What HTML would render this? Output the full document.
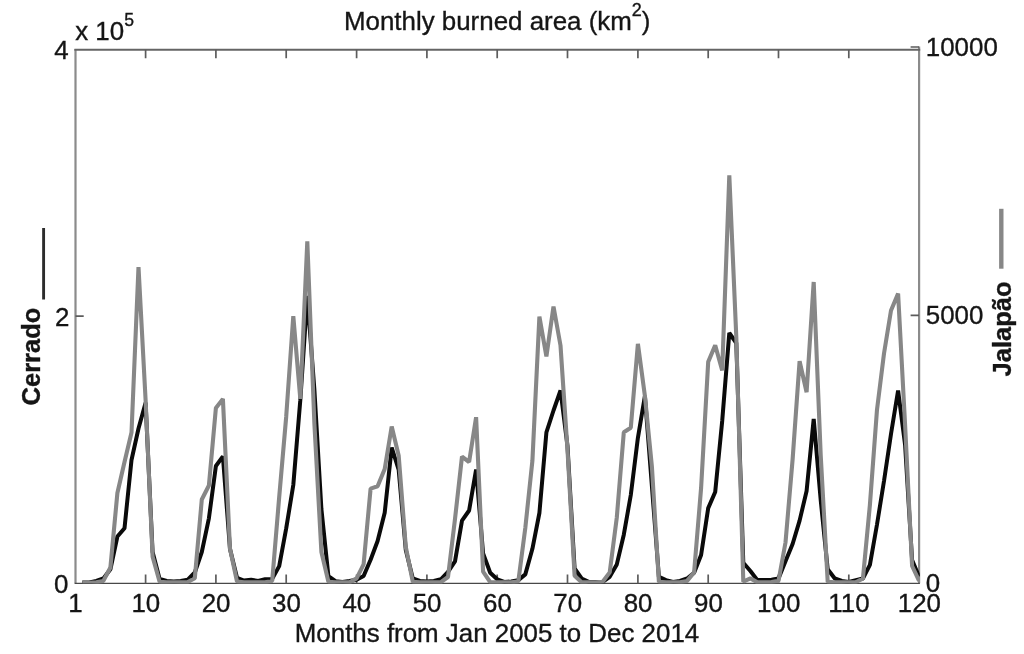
<!DOCTYPE html>
<html><head><meta charset="utf-8"><title>Monthly burned area</title>
<style>
html,body{margin:0;padding:0;background:#fff;}
svg{display:block;}
text{font-family:"Liberation Sans",Arial,sans-serif;fill:#151515;stroke:#151515;stroke-width:0.35px;}
</style></head><body>
<svg width="1024" height="654" viewBox="0 0 1024 654">
<rect width="1024" height="654" fill="#fff"/>
<path d="M75.5,583.2V48.9M919.1,583.2V46.4" fill="none" stroke="#8b8b8b" stroke-width="2.2"/>
<path d="M74.4,49.7H920.2" fill="none" stroke="#646464" stroke-width="1.9"/>
<path d="M74.6,583.3H919.9" fill="none" stroke="#484848" stroke-width="1.3"/>
<path d="M145.6,49.8v8.4M145.6,583.2v-8.7M215.9,49.8v8.4M215.9,583.2v-8.7M286.2,49.8v8.4M286.2,583.2v-8.7M356.6,49.8v8.4M356.6,583.2v-8.7M426.9,49.8v8.4M426.9,583.2v-8.7M497.2,49.8v8.4M497.2,583.2v-8.7M567.5,49.8v8.4M567.5,583.2v-8.7M637.9,49.8v8.4M637.9,583.2v-8.7M708.2,49.8v8.4M708.2,583.2v-8.7M778.5,49.8v8.4M778.5,583.2v-8.7M848.8,49.8v8.4M848.8,583.2v-8.7M75.5,316.1h8.2M919.0,47.0h-8.4M919.0,315.4h-8.4" fill="none" stroke="#5c5c5c" stroke-width="1.7"/>
<clipPath id="pc"><rect x="75.5" y="49.8" width="844.3" height="533.6"/></clipPath><g clip-path="url(#pc)">
<polyline points="82.3,582.6 89.3,582.4 96.3,581.0 103.4,578.5 110.4,569.3 117.4,536.5 124.5,528.2 131.5,460.0 138.5,428.5 145.6,402.7 152.6,552.0 159.6,578.9 166.7,581.0 173.7,581.6 180.7,581.0 187.8,579.6 194.8,572.5 201.8,552.0 208.9,518.3 215.9,466.0 222.9,456.3 230.0,549.0 237.0,577.8 244.0,580.5 251.1,579.7 258.1,581.0 265.1,579.3 272.2,578.9 279.2,566.1 286.2,528.4 293.3,485.0 300.3,400.2 307.3,296.0 314.4,390.0 321.4,509.0 328.4,576.2 335.5,581.2 342.5,581.9 349.5,581.0 356.6,579.7 363.6,576.0 370.6,559.7 377.6,541.0 384.7,512.8 391.7,447.5 398.7,470.0 405.8,550.0 412.8,578.5 419.8,581.0 426.9,581.5 433.9,581.0 440.9,579.3 448.0,571.8 455.0,561.3 462.0,520.6 469.1,510.5 476.1,469.5 483.1,553.4 490.2,572.7 497.2,579.3 504.2,581.9 511.3,581.4 518.3,580.1 525.3,574.4 532.4,548.8 539.4,513.0 546.4,432.3 553.5,410.5 560.5,390.5 567.5,446.0 574.6,568.5 581.6,578.5 588.6,581.9 595.7,582.1 602.7,581.9 609.7,576.8 616.8,564.4 623.8,534.7 630.8,495.0 637.9,437.8 644.9,396.0 651.9,486.0 658.9,576.8 666.0,580.1 673.0,581.9 680.0,581.0 687.1,578.5 694.1,572.7 701.1,555.0 708.2,508.1 715.2,492.0 722.2,421.0 729.3,333.0 736.3,343.0 743.3,562.8 750.4,571.0 757.4,580.1 764.4,580.1 771.5,579.7 778.5,578.5 785.5,561.2 792.6,544.0 799.6,520.6 806.6,491.0 813.7,419.0 820.7,500.0 827.7,569.3 834.8,578.5 841.8,581.0 848.8,581.9 855.9,580.1 862.9,578.5 869.9,564.8 877.0,524.5 884.0,481.0 891.0,434.0 898.1,390.5 905.1,445.0 912.1,560.0 919.1,576.7" fill="none" stroke="#0a0a0a" stroke-width="4" stroke-linejoin="bevel"/>
<polyline points="82.3,582.9 89.3,582.9 96.3,582.3 103.4,580.9 110.4,567.5 117.4,493.0 124.5,462.0 131.5,432.5 138.5,267.2 145.6,400.0 152.6,556.6 159.6,581.8 166.7,582.3 173.7,582.3 180.7,582.3 187.8,582.0 194.8,578.3 201.8,499.5 208.9,485.5 215.9,407.9 222.9,398.9 230.0,548.8 237.0,581.5 244.0,582.3 251.1,582.3 258.1,582.3 265.1,582.3 272.2,580.9 279.2,497.0 286.2,416.7 293.3,316.2 300.3,398.8 307.3,241.4 314.4,424.0 321.4,552.0 328.4,581.8 335.5,582.3 342.5,582.3 349.5,582.3 356.6,578.4 363.6,564.4 370.6,488.6 377.6,486.3 384.7,469.0 391.7,426.5 398.7,455.8 405.8,547.0 412.8,581.8 419.8,582.3 426.9,582.3 433.9,582.3 440.9,582.2 448.0,577.0 455.0,519.0 462.0,456.6 469.1,462.0 476.1,417.2 483.1,571.6 490.2,582.2 497.2,582.3 504.2,582.3 511.3,582.3 518.3,581.5 525.3,528.0 532.4,460.8 539.4,316.7 546.4,356.5 553.5,306.5 560.5,345.5 567.5,450.0 574.6,575.8 581.6,582.3 588.6,582.3 595.7,582.3 602.7,581.8 609.7,572.4 616.8,517.5 623.8,432.3 630.8,427.7 637.9,343.8 644.9,396.0 651.9,466.7 658.9,581.8 666.0,582.3 673.0,582.3 680.0,582.3 687.1,580.9 694.1,572.4 701.1,488.0 708.2,361.9 715.2,345.3 722.2,370.5 729.3,175.3 736.3,337.0 743.3,581.6 750.4,578.4 757.4,582.3 764.4,582.3 771.5,582.0 778.5,580.9 785.5,542.5 792.6,459.5 799.6,361.2 806.6,392.2 813.7,282.0 820.7,455.0 827.7,581.8 834.8,582.3 841.8,582.3 848.8,582.3 855.9,582.0 862.9,578.7 869.9,505.0 877.0,409.7 884.0,353.5 891.0,310.5 898.1,293.6 905.1,425.0 912.1,566.0 919.1,580.9" fill="none" stroke="#878787" stroke-width="4.1" stroke-linejoin="bevel"/></g>
<line x1="43.6" y1="228" x2="43.6" y2="299.5" stroke="#2c2c2c" stroke-width="2.9"/>
<line x1="1001.3" y1="208.8" x2="1001.3" y2="268.7" stroke="#878787" stroke-width="4.4"/>
<text x="497.2" y="30.2" text-anchor="middle" font-size="25.9">Monthly burned area (km<tspan font-size="18" dy="-14.3">2</tspan><tspan dy="14.3">)</tspan></text>
<text x="75.2" y="40" font-size="25.9">x 10<tspan font-size="17.6" dy="-14.4">5</tspan></text>
<text x="68.6" y="59.1" text-anchor="end" font-size="25.9">4</text>
<text x="69.4" y="325.9" text-anchor="end" font-size="25.9">2</text>
<text x="68.5" y="592.6" text-anchor="end" font-size="25.9">0</text>
<text x="925.8" y="56.2" font-size="25.9">10000</text>
<text x="925.8" y="324.4" font-size="25.9">5000</text>
<text x="925.8" y="591.9" font-size="25.9">0</text>
<text x="75.5" y="612.2" text-anchor="middle" font-size="25.9">1</text>
<text x="145.8" y="612.2" text-anchor="middle" font-size="25.9">10</text>
<text x="216.1" y="612.2" text-anchor="middle" font-size="25.9">20</text>
<text x="286.4" y="612.2" text-anchor="middle" font-size="25.9">30</text>
<text x="356.8" y="612.2" text-anchor="middle" font-size="25.9">40</text>
<text x="427.1" y="612.2" text-anchor="middle" font-size="25.9">50</text>
<text x="497.4" y="612.2" text-anchor="middle" font-size="25.9">60</text>
<text x="567.7" y="612.2" text-anchor="middle" font-size="25.9">70</text>
<text x="638.1" y="612.2" text-anchor="middle" font-size="25.9">80</text>
<text x="708.4" y="612.2" text-anchor="middle" font-size="25.9">90</text>
<text x="778.7" y="612.2" text-anchor="middle" font-size="25.9">100</text>
<text x="849.0" y="612.2" text-anchor="middle" font-size="25.9">110</text>
<text x="919.4" y="612.2" text-anchor="middle" font-size="25.9">120</text>
<text x="497" y="641.8" text-anchor="middle" font-size="25.9">Months from Jan 2005 to Dec 2014</text>
<text transform="translate(39.8,405.4) rotate(-90)" font-size="25.5" font-weight="bold">Cerrado</text>
<text transform="translate(1011,376.4) rotate(-90)" font-size="25.5" font-weight="bold">Jalapão</text>
</svg>
</body></html>
